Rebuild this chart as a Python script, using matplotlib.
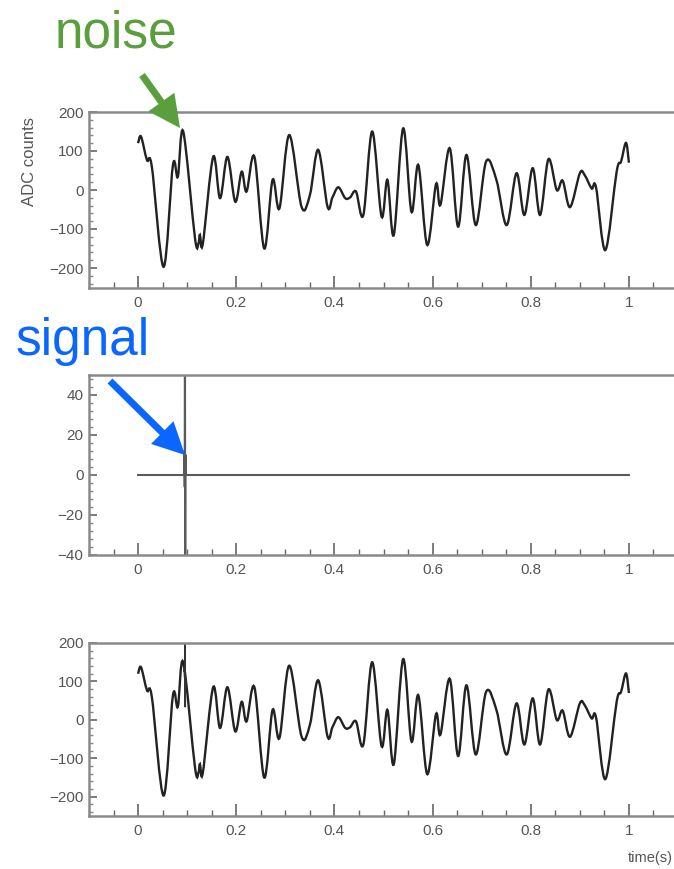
import numpy as np
import matplotlib
matplotlib.use("Agg")
import matplotlib.pyplot as plt
from matplotlib.path import Path
from matplotlib.patches import PathPatch
from matplotlib.ticker import MultipleLocator, FuncFormatter

plt.rcParams.update({
    "font.family": ["Liberation Sans", "DejaVu Sans"],
    "axes.unicode_minus": True,
})

# noise waveform (time in s, ADC counts)
noise_t = [0.000, 0.006, 0.018, 0.028, 0.052, 0.071, 0.081, 0.092, 0.116, 0.123,
           0.126, 0.132, 0.153, 0.167, 0.182, 0.198, 0.211, 0.221, 0.237, 0.257,
           0.274, 0.288, 0.308, 0.333, 0.350, 0.367, 0.386, 0.396, 0.408, 0.422,
           0.432, 0.444, 0.459, 0.477, 0.496, 0.508, 0.521, 0.540, 0.557, 0.571,
           0.589, 0.607, 0.616, 0.635, 0.652, 0.669, 0.688, 0.709, 0.730, 0.751,
           0.771, 0.787, 0.804, 0.819, 0.836, 0.853, 0.865, 0.880, 0.900, 0.910,
           0.924, 0.933, 0.952, 0.975, 0.984, 0.994, 1.000]
noise_v = [120, 137, 77, 60, -197, 64, 34, 150, -124, -137,
           -115, -137, 85, -21, 85, -30, 47, -4, 85, -150,
           26, -47, 141, -43, -13, 103, -43, -19, 7, -21,
           -19, -4, -64, 150, -68, 26, -115, 158, -56, 64,
           -141, 15, -38, 107, -94, 90, -90, 73, 26, -90,
           43, -64, 56, -64, 79, 0, 24, -44, 43, 38,
           4, 7, -154, 47, 73, 121, 70]

# short signal pulse around t ~ 0.095 s
signal_t = [0.0, 0.0940, 0.0945, 0.0950, 0.0955, 0.0960, 0.0965, 0.0970, 1.0]
signal_v = [0, 0, 12, -6, 90, -70, 10, 0, 0]

x_ticks = [0, 0.2, 0.4, 0.6, 0.8, 1]

W, H = 674, 869
GREEN = "#5b9e3c"
BLUE = "#0a66ff"
FRAME = "#8a8a8a"
LABEL = "#555555"
TRACE = "#222222"


def px_axes(fig, left, top, right, bottom):
    return fig.add_axes([left / W, 1 - bottom / H, (right - left) / W, (bottom - top) / H])


def smooth_trace(ax, x, y, **kw):
    # draw the read points as a rounded curve (catmull-rom -> bezier)
    x = np.asarray(x, float)
    y = np.asarray(y, float)
    pts = np.column_stack([x, y])
    ext = np.vstack([pts[0], pts, pts[-1]])
    verts = [pts[0]]
    codes = [Path.MOVETO]
    for i in range(len(pts) - 1):
        p0, p1, p2, p3 = ext[i], ext[i + 1], ext[i + 2], ext[i + 3]
        c1 = p1 + (p2 - p0) / 6.0
        c2 = p2 - (p3 - p1) / 6.0
        verts += [c1, c2, p2]
        codes += [Path.CURVE4] * 3
    ax.add_patch(PathPatch(Path(verts, codes), fill=False, **kw))


def style_axes(ax, ylim, ymajor, yminor):
    ax.set_xlim(-0.1, 1.1)
    ax.set_ylim(*ylim)
    for side in ["left", "top", "right", "bottom"]:
        ax.spines[side].set_color(FRAME)
        ax.spines[side].set_linewidth(1.8)
    ax.xaxis.set_major_locator(plt.FixedLocator(x_ticks))
    ax.xaxis.set_minor_locator(MultipleLocator(0.05))
    ax.xaxis.set_major_formatter(FuncFormatter(lambda v, p: f"{v:g}"))
    ax.yaxis.set_major_locator(MultipleLocator(ymajor))
    ax.yaxis.set_minor_locator(MultipleLocator(yminor))
    ax.tick_params(axis="x", which="major", direction="in", length=9, width=1.2,
                   color="#666666", labelsize=11, labelcolor=LABEL, pad=6)
    ax.tick_params(axis="x", which="minor", direction="in", length=4.5, width=1.0,
                   color="#666666")
    ax.tick_params(axis="y", which="major", direction="in", length=6, width=1.2,
                   color="#666666", labelsize=11, labelcolor=LABEL, pad=4)
    ax.tick_params(axis="y", which="minor", direction="in", length=3, width=1.0,
                   color="#888888")
    ax.tick_params(top=False, right=False, which="both")


def main():
    fig = plt.figure(figsize=(W / 100, H / 100), dpi=100)

    # top: noise
    ax1 = px_axes(fig, 89, 112, 678, 287.5)
    smooth_trace(ax1, noise_t, noise_v, edgecolor=TRACE, lw=1.7)
    style_axes(ax1, (-250, 200), 100, 20)
    ax1.set_ylabel("ADC counts", fontsize=12, color=LABEL)
    ax1.yaxis.set_label_coords(-0.088, 0.72)

    # middle: signal
    ax2 = px_axes(fig, 89, 375, 678, 555)
    ax2.plot(signal_t, signal_v, color="#5a5a5a", lw=1.5)
    style_axes(ax2, (-40, 50), 20, 4)

    # bottom: noise + signal
    ax3 = px_axes(fig, 89, 643, 678, 816)
    smooth_trace(ax3, noise_t, noise_v, edgecolor=TRACE, lw=1.7)
    pulse_t = np.array(signal_t[1:-1])
    pulse_v = np.interp(pulse_t, noise_t, noise_v) + np.array(signal_v[1:-1])
    ax3.plot(pulse_t, pulse_v, color="#333333", lw=1.2)
    style_axes(ax3, (-250, 200), 100, 20)
    fig.text(673 / W, 1 - 858 / H, "time(s)", ha="right", va="center",
             fontsize=10.5, color=LABEL)

    # annotations
    fig.text(116 / W, 1 - 34 / H, "noise", color=GREEN, fontsize=37,
             ha="center", va="center")
    fig.text(83 / W, 1 - 342 / H, "signal", color=BLUE, fontsize=37,
             ha="center", va="center")
    ax1.annotate("", xy=(180, H - 128), xycoords="figure pixels",
                 xytext=(142, H - 75), textcoords="figure pixels",
                 arrowprops=dict(facecolor=GREEN, edgecolor="none", width=5,
                                 headwidth=23, headlength=23),
                 annotation_clip=False)
    ax2.annotate("", xy=(185, H - 455), xycoords="figure pixels",
                 xytext=(110, H - 381), textcoords="figure pixels",
                 arrowprops=dict(facecolor=BLUE, edgecolor="none", width=5,
                                 headwidth=23, headlength=23),
                 annotation_clip=False)

    fig.savefig("out.png", dpi=100)


if __name__ == "__main__":
    main()
